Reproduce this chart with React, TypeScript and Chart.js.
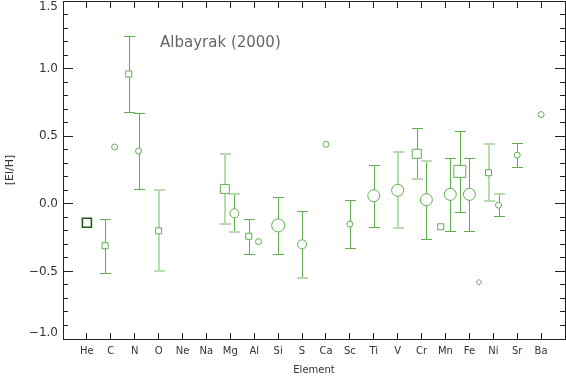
import React, { useEffect, useRef } from 'react';
import { Chart, registerables } from 'chart.js';

Chart.register(...registerables);

// ---------- data ----------
const elements = ['He', 'C', 'N', 'O', 'Ne', 'Na', 'Mg', 'Al', 'Si', 'S', 'Ca', 'Sc', 'Ti', 'V', 'Cr', 'Mn', 'Fe', 'Ni', 'Sr', 'Ba'];

const yTickValues = [-1.0, -0.5, 0.0, 0.5, 1.0, 1.5];
const yTickLabels = ['\u22121.0', '\u22120.5', '0.0', '0.5', '1.0', '1.5'];

const sourceLabel = 'Albayrak (2000)';

// He (dark square)
const heElements = ['He'];
const heValues = [-0.14];

// open squares
const squareElements = ['C', 'N', 'O', 'Mg', 'Al', 'Cr', 'Mn', 'Fe', 'Ni'];
const squareShift = [-0.24, -0.25, 0, -0.23, -0.23, -0.2, -0.2, -0.4, -0.2];
const squareValues = [-0.31, 0.96, -0.2, 0.11, -0.24, 0.37, -0.17, 0.24, 0.23];
const squareErrors = [0.2, 0.28, 0.3, 0.26, 0.13, 0.19, null, 0.3, 0.21];

// open circles
const circleElements = ['C', 'N', 'Mg', 'Al', 'Si', 'S', 'Ca', 'Sc', 'Ti', 'V', 'Cr', 'Mn', 'Fe', 'Ni', 'Sr', 'Ba'];
const circleShift = [0.16, 0.16, 0.17, 0.18, 0, 0, 0, 0, 0, 0, 0.2, 0.2, 0, 0.22, 0, 0];
const circleValues = [0.42, 0.39, -0.07, -0.28, -0.16, -0.3, 0.44, -0.15, 0.06, 0.1, 0.03, 0.07, 0.07, -0.01, 0.36, 0.66];
const circleErrors = [null, 0.28, 0.14, null, 0.21, 0.25, null, 0.18, 0.23, 0.28, 0.29, 0.27, 0.27, 0.08, 0.09, null];

// open diamond
const diamondElements = ['Fe'];
const diamondShift = [0.4];
const diamondValues = [-0.58];

// ---------- styles ----------
const squareSides = [7, 7, 7, 10, 7, 10, 7, 13, 7];
// bar style per point: 'm' medium, 'l' light; caps: [top, bottom]
const squareBarStyle = ['m', 'm', 'l', 'l', 'm', 'm', 'm', 'm', 'l'];
const squareCapStyle = [['m', 'm'], ['m', 'm'], ['l', 'l'], ['l', 'l'], ['m', 'm'], ['m', 'l'], ['m', 'm'], ['m', 'm'], ['l', 'l']];
const circleDiams = [7, 7, 10, 7, 14, 10, 7, 7, 13, 13, 13, 13, 13, 7, 7, 7];
const circleBarStyle = ['m', 'm', 'm', 'm', 'm', 'm', 'm', 'm', 'm', 'l', 'm', 'm', 'm', 'm', 'm', 'm'];
const circleCapStyle = [
  ['m', 'm'], ['m', 'm'], ['l', 'l'], ['m', 'm'], ['m', 'm'], ['m', 'l'], ['m', 'm'], ['m', 'm'],
  ['m', 'm'], ['l', 'l'], ['l', 'm'], ['m', 'm'], ['m', 'm'], ['l', 'm'], ['m', 'm'], ['m', 'm'],
];

const MED = '#5fae50';
const LIGHT = '#b8dcb0';
const DARK = '#1f5a16';
const AXIS = '#222222';
const TEXT = '#333333';

const idx = (e: string) => elements.indexOf(e);

const hePoints = heElements.map((e, i) => ({ x: idx(e), y: heValues[i] }));
const squarePoints = squareElements.map((e, i) => ({ x: idx(e) + squareShift[i], y: squareValues[i] }));
const circlePoints = circleElements.map((e, i) => ({ x: idx(e) + circleShift[i], y: circleValues[i] }));
const diamondPoints = diamondElements.map((e, i) => ({ x: idx(e) + diamondShift[i], y: diamondValues[i] }));

const errorSeries = [
  { points: squarePoints, errors: squareErrors, bar: squareBarStyle, caps: squareCapStyle },
  { points: circlePoints, errors: circleErrors, bar: circleBarStyle, caps: circleCapStyle },
];

const strokeSeg = (ctx: any, style: string, x0: number, y0: number, x1: number, y1: number, vertical: boolean) => {
  const light = style === 'l';
  const off = light ? 0 : 0.5;
  ctx.strokeStyle = light ? LIGHT : MED;
  ctx.lineWidth = light ? 2 : 1;
  ctx.beginPath();
  if (vertical) {
    const x = Math.round(x0) + off;
    ctx.moveTo(x, y0);
    ctx.lineTo(x, y1);
  } else {
    const y = Math.round(y0) + off;
    ctx.moveTo(x0, y);
    ctx.lineTo(x1, y);
  }
  ctx.stroke();
};

const errorBarPlugin = {
  id: 'errorBars',
  beforeDatasetsDraw(chart: any) {
    const { ctx, scales } = chart;
    const xs = scales.x;
    const ys = scales.y;
    ctx.save();
    errorSeries.forEach((s) => {
      s.points.forEach((p, i) => {
        const err = s.errors[i];
        if (err == null) return;
        const px = Math.round(xs.getPixelForValue(p.x));
        const yt = Math.round(ys.getPixelForValue(p.y + err));
        const yb = Math.round(ys.getPixelForValue(p.y - err));
        strokeSeg(ctx, s.bar[i], px, yt, px, yb + 1, true);
        strokeSeg(ctx, s.caps[i][0], px - 5, yt, px + 6, yt, false);
        strokeSeg(ctx, s.caps[i][1], px - 5, yb, px + 6, yb, false);
      });
    });
    ctx.restore();
  },
};

const sourceLabelPlugin = {
  id: 'sourceLabel',
  afterDatasetsDraw(chart: any) {
    const { ctx, scales } = chart;
    ctx.save();
    ctx.font = '15px "DejaVu Sans"';
    ctx.fillStyle = '#666666';
    ctx.textAlign = 'left';
    ctx.textBaseline = 'middle';
    ctx.fillText(sourceLabel, scales.x.getPixelForValue(3.06), scales.y.getPixelForValue(1.19));
    ctx.restore();
  },
};

const zeroPad = (s: any) => {
  s.paddingTop = 0;
  s.paddingBottom = 0;
  s.paddingLeft = 0;
  s.paddingRight = 0;
};

const categoryTicks = (s: any) => {
  s.ticks = elements.map((_, i) => ({ value: i }));
};

export default function App() {
  const ref = useRef<HTMLCanvasElement>(null);

  useEffect(() => {
    document.body.style.margin = '0';
    const canvas = ref.current;
    if (!canvas) return;
    const chart = new Chart(canvas, {
      type: 'scatter',
      data: {
        datasets: [
          {
            label: 'He',
            data: hePoints,
            pointStyle: 'rect',
            pointRadius: 9 / Math.SQRT2,
            borderColor: DARK,
            backgroundColor: '#ffffff',
            borderWidth: 1.6,
          },
          {
            label: 'squares',
            data: squarePoints,
            pointStyle: 'rect',
            pointRadius: squareSides.map((s) => (s - 1) / Math.SQRT2),
            borderColor: MED,
            backgroundColor: '#ffffff',
            borderWidth: 1,
          },
          {
            label: 'circles',
            data: circlePoints,
            pointStyle: 'circle',
            pointRadius: circleDiams.map((d) => (d - 1) / 2),
            borderColor: MED,
            backgroundColor: '#ffffff',
            borderWidth: 1,
          },
          {
            label: 'diamond',
            data: diamondPoints,
            pointStyle: 'rectRot',
            pointRadius: 2.8,
            borderColor: MED,
            backgroundColor: '#ffffff',
            borderWidth: 1,
          },
        ],
      },
      options: {
        responsive: false,
        animation: false,
        devicePixelRatio: 1,
        events: [],
        layout: { autoPadding: false, padding: { top: 1, right: 1, left: 0, bottom: 0 } },
        plugins: { legend: { display: false }, tooltip: { enabled: false } },
        scales: {
          x: {
            type: 'linear',
            position: 'bottom',
            min: -1,
            max: 20,
            afterBuildTicks: categoryTicks,
            afterFit: (s: any) => {
              zeroPad(s);
              s.height = 40;
            },
            ticks: {
              autoSkip: false,
              maxRotation: 0,
              padding: 12,
              color: TEXT,
              font: { family: 'DejaVu Sans', size: 10 },
              callback: (v: any) => elements[v as number] ?? '',
            },
            grid: { drawOnChartArea: false, tickLength: -6, color: AXIS, tickColor: AXIS },
            border: { display: true, color: AXIS, width: 1 },
            title: {
              display: true,
              text: 'Element',
              color: TEXT,
              font: { family: 'DejaVu Sans', size: 10 },
              padding: { top: 0, bottom: 3 },
            },
          },
          xTop: {
            type: 'linear',
            axis: 'x',
            position: { y: 1.5 },
            min: -1,
            max: 20,
            afterBuildTicks: categoryTicks,
            afterFit: zeroPad,
            ticks: { display: false },
            grid: { drawOnChartArea: false, tickLength: 6, color: AXIS, tickColor: AXIS },
            border: { display: true, color: AXIS, width: 1 },
          },
          y: {
            type: 'linear',
            position: 'left',
            min: -1,
            max: 1.5,
            afterBuildTicks: (s: any) => {
              s.ticks = yTickValues.map((v) => ({ value: v }));
            },
            afterFit: (s: any) => {
              zeroPad(s);
              s.width = 63;
            },
            ticks: {
              padding: 15,
              color: TEXT,
              font: { family: 'DejaVu Sans', size: 12, lineHeight: 0.95 },
              callback: (v: any, i: number) => {
                const lbl = yTickLabels[i];
                if (i === yTickValues.length - 1) return ['', lbl];
                if (i === 0) return [lbl, ''];
                return lbl;
              },
            },
            grid: { drawOnChartArea: false, tickLength: -10, color: AXIS, tickColor: AXIS },
            border: { display: true, color: AXIS, width: 1 },
            title: {
              display: true,
              text: '[El/H]',
              color: TEXT,
              font: { family: 'DejaVu Sans', size: 11 },
              padding: { top: 4, bottom: 0 },
            },
          },
          yLMin: {
            type: 'linear',
            axis: 'y',
            position: { x: -1 },
            min: -1,
            max: 1.5,
            afterFit: zeroPad,
            ticks: { display: false, stepSize: 0.1 },
            grid: { drawOnChartArea: false, tickLength: -5, color: AXIS, tickColor: AXIS },
            border: { display: false },
          },
          yR: {
            type: 'linear',
            axis: 'y',
            position: { x: 20 },
            min: -1,
            max: 1.5,
            afterBuildTicks: (s: any) => {
              s.ticks = yTickValues.map((v) => ({ value: v }));
            },
            afterFit: zeroPad,
            ticks: { display: false },
            grid: { drawOnChartArea: false, tickLength: 10, color: AXIS, tickColor: AXIS },
            border: { display: true, color: AXIS, width: 1 },
          },
          yRMin: {
            type: 'linear',
            axis: 'y',
            position: { x: 20 },
            min: -1,
            max: 1.5,
            afterFit: zeroPad,
            ticks: { display: false, stepSize: 0.1 },
            grid: { drawOnChartArea: false, tickLength: 5, color: AXIS, tickColor: AXIS },
            border: { display: false },
          },
        },
      },
      plugins: [errorBarPlugin, sourceLabelPlugin],
    });
    return () => chart.destroy();
  }, []);

  return (
    <div style={{ width: 566, height: 379 }}>
      <canvas ref={ref} width={566} height={379} style={{ display: 'block' }} />
    </div>
  );
}
